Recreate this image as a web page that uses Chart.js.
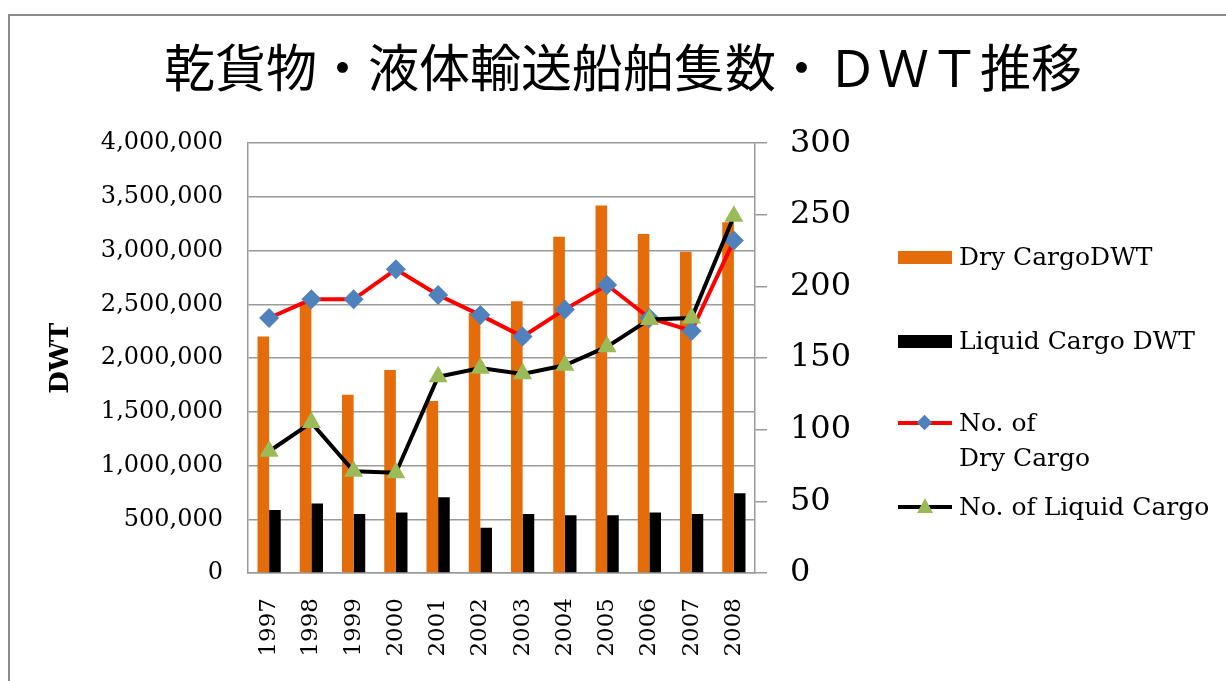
<!DOCTYPE html>
<html>
<head>
<meta charset="utf-8">
<script src="https://cdn.jsdelivr.net/npm/chart.js@4/dist/chart.umd.min.js"></script>
<style>
  html, body { margin: 0; padding: 0; background: #fff; overflow: hidden; }
  #wrap { position: relative; width: 1226px; height: 681px; }
  #frame { position: absolute; left: 8px; top: 14px; width: 1400px; height: 900px;
           border: 2px solid #8c8c8c; box-sizing: border-box; }
  #chart { position: absolute; left: 0; top: 0; }
  .legend { position: absolute; left: 0; top: 0; font-family: "DejaVu Serif", serif;
            font-size: 25px; color: #000; }
  .item { position: absolute; left: 898px; }
  .item span { position: absolute; left: 61px; white-space: nowrap; line-height: 35px; }
  .box { position: absolute; left: 0; width: 54px; height: 13px; }
  .ln { position: absolute; left: 0; width: 54px; height: 4px; }
  .dia { position: absolute; left: 21px; width: 11px; height: 11px; background: #4f81bd;
         transform: rotate(45deg); }
  .tri { position: absolute; left: 19px; width: 0; height: 0; border-left: 8px solid transparent;
         border-right: 8px solid transparent; border-bottom: 15px solid #9bbb59; }
</style>
</head>
<body>
<div id="wrap">
  <div id="frame"></div>
  <canvas id="chart" width="1226" height="681"></canvas>
  <div class="legend">
    <div class="item" style="top:257px">
      <div class="box" style="top:-6px;background:#e46c0a"></div>
      <span style="top:-18px">Dry CargoDWT</span>
    </div>
    <div class="item" style="top:341px">
      <div class="box" style="top:-6px;background:#000"></div>
      <span style="top:-18px">Liquid Cargo DWT</span>
    </div>
    <div class="item" style="top:423px">
      <div class="ln" style="top:-2px;background:#ff0000"></div>
      <div class="dia" style="top:-6px"></div>
      <span style="top:-18px">No. of<br>Dry Cargo</span>
    </div>
    <div class="item" style="top:507px">
      <div class="ln" style="top:-2px;background:#000"></div>
      <div class="tri" style="top:-9px"></div>
      <span style="top:-18px">No. of Liquid Cargo</span>
    </div>
  </div>
</div>
<script>
// data
var years = ['1997', '1998', '1999', '2000', '2001', '2002', '2003', '2004', '2005', '2006', '2007', '2008'];
var dryCargoDwt = [2200000, 2510000, 1660000, 1890000, 1600000, 2420000, 2530000, 3130000, 3420000, 3155000, 2990000, 3265000];
var liquidCargoDwt = [587000, 646000, 550000, 562000, 705000, 420000, 550000, 538000, 538000, 562000, 550000, 742000];
var dryCargoNo = [178, 191, 191, 212, 194, 180, 165, 184, 201, 178, 169, 232];
var liquidCargoNo = [85, 105, 71, 70, 137, 143, 139, 145, 158, 177, 178, 249];

var gridGray = '#9a9a9a';

var ctx = document.getElementById('chart');
var chart = new Chart(ctx, {
  type: 'bar',
  data: {
    labels: years,
    datasets: [
      {
        label: 'No. of Liquid Cargo',
        type: 'line',
        data: liquidCargoNo,
        yAxisID: 'y1',
        borderColor: '#000',
        borderWidth: 4,
        pointStyle: 'triangle',
        pointRadius: 11,
        pointBackgroundColor: '#9bbb59',
        pointBorderColor: '#9bbb59',
        pointBorderWidth: 0,
        tension: 0,
        order: 0
      },
      {
        label: 'No. of Dry Cargo',
        type: 'line',
        data: dryCargoNo,
        yAxisID: 'y1',
        borderColor: '#ff0000',
        borderWidth: 4,
        pointStyle: 'rectRot',
        pointRadius: 10,
        pointBackgroundColor: '#4f81bd',
        pointBorderColor: '#4f81bd',
        pointBorderWidth: 0,
        tension: 0,
        order: 1
      },
      {
        label: 'Dry CargoDWT',
        data: dryCargoDwt,
        yAxisID: 'y',
        backgroundColor: '#e46c0a',
        categoryPercentage: 0.55,
        barPercentage: 1.0,
        order: 2
      },
      {
        label: 'Liquid Cargo DWT',
        data: liquidCargoDwt,
        yAxisID: 'y',
        backgroundColor: '#000',
        categoryPercentage: 0.55,
        barPercentage: 1.0,
        order: 2
      }
    ]
  },
  options: {
    responsive: false,
    animation: false,
    layout: {
      padding: { left: 20, top: 0, right: 0, bottom: 0 }
    },
    plugins: {
      legend: { display: false },
      tooltip: { enabled: false },
      title: {
        display: true,
        text: '乾貨物・液体輸送船舶隻数・ＤＷＴ推移',
        color: '#000',
        font: { family: 'Noto Sans CJK JP', size: 51, weight: 'normal' },
        padding: { top: 37, bottom: 45 }
      }
    },
    scales: {
      x: {
        grid: { display: true, drawOnChartArea: false, drawTicks: false, color: gridGray },
        border: { display: true, color: gridGray, width: 1.5 },
        ticks: { color: '#000', font: { family: 'DejaVu Serif', size: 23 }, minRotation: 90, maxRotation: 90, padding: 25 },
        afterFit: function (scale) { scale.height = 108; }
      },
      y: {
        position: 'left',
        min: 0,
        max: 4000000,
        grid: { color: gridGray, lineWidth: 1.5, drawTicks: false },
        border: { display: true, color: gridGray, width: 1.5 },
        ticks: {
          stepSize: 500000,
          color: '#000',
          font: { family: 'DejaVu Serif', size: 24 },
          padding: 25,
          callback: function (v) { return v.toLocaleString('en-US'); }
        },
        title: {
          display: true,
          text: 'DWT',
          color: '#000',
          font: { family: 'DejaVu Serif', size: 26, weight: 'bold' },
          padding: { top: 26, bottom: 0 }
        },
        afterFit: function (scale) { scale.width = 228; }
      },
      y1: {
        position: 'right',
        min: 0,
        max: 300,
        grid: { drawOnChartArea: false, drawTicks: true, tickLength: 12, color: gridGray, lineWidth: 1.5 },
        border: { display: true, color: gridGray, width: 1.5 },
        ticks: {
          stepSize: 50,
          color: '#000',
          font: { family: 'DejaVu Serif', size: 32 },
          padding: 23
        },
        afterFit: function (scale) { scale.width = 471; }
      }
    }
  }
});
</script>
</body>
</html>
